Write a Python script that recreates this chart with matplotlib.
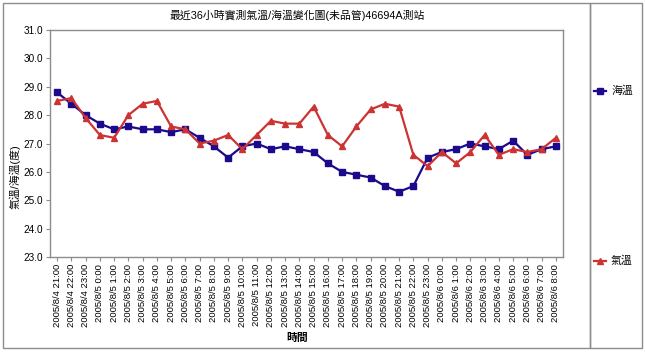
import matplotlib
matplotlib.use("Agg")
import matplotlib.pyplot as plt
from matplotlib.lines import Line2D
from matplotlib.patches import Rectangle

plt.rcParams["font.family"] = ["Liberation Sans", "Noto Sans CJK TC", "DejaVu Sans"]

W, H = 645, 353

times = (["2005/8/4 21:00", "2005/8/4 22:00", "2005/8/4 23:00"]
         + [f"2005/8/5 {h}:00" for h in range(24)]
         + [f"2005/8/6 {h}:00" for h in range(9)])

sea_temp = [28.8, 28.4, 28.0, 27.7, 27.5, 27.6, 27.5, 27.5, 27.4, 27.5,
            27.2, 26.9, 26.5, 26.9, 27.0, 26.8, 26.9, 26.8, 26.7, 26.3,
            26.0, 25.9, 25.8, 25.5, 25.3, 25.5, 26.5, 26.7, 26.8, 27.0,
            26.9, 26.8, 27.1, 26.6, 26.8, 26.9]
air_temp = [28.5, 28.6, 27.9, 27.3, 27.2, 28.0, 28.4, 28.5, 27.6, 27.5,
            27.0, 27.1, 27.3, 26.8, 27.3, 27.8, 27.7, 27.7, 28.3, 27.3,
            26.9, 27.6, 28.2, 28.4, 28.3, 26.6, 26.2, 26.7, 26.3, 26.7,
            27.3, 26.6, 26.8, 26.7, 26.8, 27.2]

BLUE, RED, GREY = "#1c0a8c", "#cc3333", "#8c8c8c"


def fx(px):
    return px / W


def fy(py):
    return 1 - py / H


fig = plt.figure(figsize=(W / 100, H / 100), dpi=100)

# outer frames: chart box and legend box
fig.add_artist(Rectangle((fx(3), fy(348)), fx(587), 345 / H, transform=fig.transFigure,
                         fill=False, edgecolor=GREY, linewidth=1.0))
fig.add_artist(Rectangle((fx(590), fy(348)), fx(52), 345 / H, transform=fig.transFigure,
                         fill=False, edgecolor=GREY, linewidth=1.0))

ax = fig.add_axes([fx(50), fy(257), fx(513), (257 - 30) / H])
x = list(range(len(times)))
ax.plot(x, sea_temp, color=BLUE, linewidth=1.6, marker="s", markersize=3.8,
        markeredgecolor=BLUE)
ax.plot(x, air_temp, color=RED, linewidth=1.6, marker="^", markersize=4.2,
        markeredgecolor=RED)

ax.set_xlim(-0.5, len(times) - 0.5)
ax.set_ylim(23, 31)
ax.set_yticks(range(23, 32))
ax.set_yticklabels([f"{v:.1f}" for v in range(23, 32)], fontsize=7.2)
ax.set_xticks(x)
ax.set_xticklabels(times, rotation=90, fontsize=6.8)
ax.tick_params(axis="both", direction="out", length=3, width=0.8, color=GREY, pad=2)
for sp in ax.spines.values():
    sp.set_color(GREY)
    sp.set_linewidth(1.0)

fig.text(fx(297), fy(15), "最近36小時實測氣溫/海溫變化圖(未品管)46694A測站",
         ha="center", va="center", fontsize=7.8)
fig.text(fx(15), fy(177), "氣溫/海溫(度)", rotation=90, ha="center", va="center",
         fontsize=7.8)
fig.text(fx(297), fy(338), "時間", ha="center", va="center", fontsize=7.8,
         fontweight="bold")

# legend entries placed at the reference positions
for y_px, col, mk, lab in [(91, BLUE, "s", "海溫"), (261, RED, "^", "氣溫")]:
    fig.add_artist(Line2D([fx(594), fx(606)], [fy(y_px), fy(y_px)], color=col,
                          linewidth=1.6, transform=fig.transFigure))
    fig.add_artist(Line2D([fx(600)], [fy(y_px)], color=col, marker=mk, markersize=4,
                          transform=fig.transFigure))
    fig.text(fx(611), fy(y_px), lab, ha="left", va="center", fontsize=7.8)

fig.savefig("out.png", dpi=100)
